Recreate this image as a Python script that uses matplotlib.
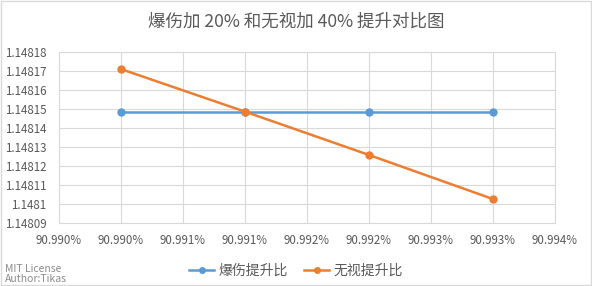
import matplotlib.pyplot as plt
from matplotlib.patches import Rectangle

plt.rcParams['font.family'] = ['Noto Sans CJK SC', 'DejaVu Sans']

# x: 暴击率 (%)
x = [90.9900, 90.9910, 90.9920, 90.9930]
baoshang = [1.1481486, 1.1481486, 1.1481486, 1.1481486]  # 爆伤提升比
wushi = [1.148171, 1.1481486, 1.1481258, 1.1481026]       # 无视提升比

xticks = [90.9895, 90.9900, 90.9905, 90.9910, 90.9915, 90.9920, 90.9925, 90.9930, 90.9935]
xticklabels = ["90.990%", "90.990%", "90.991%", "90.991%", "90.992%",
               "90.992%", "90.993%", "90.993%", "90.994%"]
yticks = [1.14809, 1.14810, 1.14811, 1.14812, 1.14813, 1.14814, 1.14815, 1.14816, 1.14817, 1.14818]
yticklabels = ["1.14809", "1.1481", "1.14811", "1.14812", "1.14813",
               "1.14814", "1.14815", "1.14816", "1.14817", "1.14818"]

txt = '#595959'
grid = '#d9d9d9'

fig = plt.figure(figsize=(5.92, 2.86), dpi=100)
ax = fig.add_axes([59/592, 1 - 223/286, (555-59)/592, (223-52)/286])

ax.plot(x, baoshang, color='#5B9BD5', lw=1.8, marker='o', ms=5, label='爆伤提升比')
ax.plot(x, wushi, color='#ED7D31', lw=1.8, marker='o', ms=5, label='无视提升比')

ax.set_xlim(xticks[0], xticks[-1])
ax.set_ylim(yticks[0], yticks[-1])
ax.set_xticks(xticks)
ax.set_xticklabels(xticklabels)
ax.set_yticks(yticks)
ax.set_yticklabels(yticklabels)
ax.tick_params(length=0, colors=txt, labelsize=8.3)
ax.tick_params(axis='y', pad=9)
ax.tick_params(axis='x', pad=8)
ax.grid(True, color=grid, lw=0.8)
ax.set_axisbelow(True)
for s in ax.spines.values():
    s.set_color(grid)
    s.set_linewidth(0.8)

fig.suptitle('爆伤加 20% 和无视加 40% 提升对比图', y=1 - 22/286, va='center',
             fontsize=12.6, color=txt)

leg = fig.legend(loc='center', bbox_to_anchor=(0.5, 1 - 271/286), ncol=2, frameon=False,
                 fontsize=10, labelcolor=txt, handlelength=1.8, handletextpad=0.3,
                 columnspacing=1.2, borderpad=0, markerscale=0.8)

fig.text(5/592, 1 - 274/286, 'MIT License\nAuthor:Tikas', fontsize=7.5, color='#8c8c8c',
         va='center', ha='left', linespacing=1.05)

fig.patches.append(Rectangle((0.002, 0.004), 0.996, 0.992, transform=fig.transFigure,
                             fill=False, edgecolor=grid, lw=1))

fig.savefig('out.png', dpi=100)
